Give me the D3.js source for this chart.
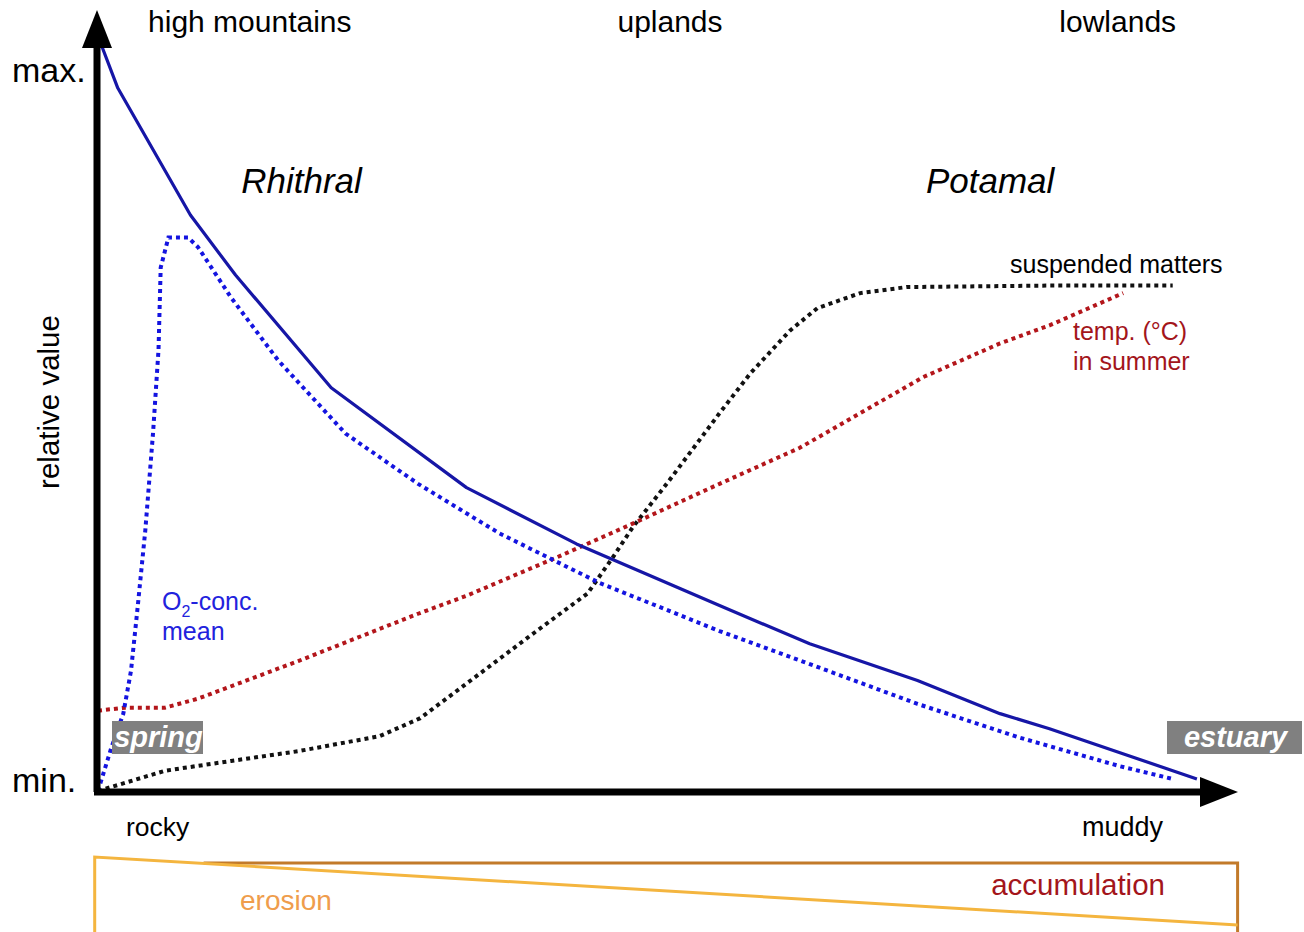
<!DOCTYPE html>
<html>
<head>
<meta charset="utf-8">
<script src="https://cdn.jsdelivr.net/npm/d3@7"></script>
<style>
  body { margin: 0; background: #fff; }
  svg { display: block; font-family: "Liberation Sans", Arial, sans-serif; }
</style>
</head>
<body>
<div id="chart"></div>
<script>
// zones along the river (x in % of river length)
const zoneNames = ["high mountains", "uplands", "lowlands"];
const zoneX = [13.8, 52, 92.7];
const regionNames = ["Rhithral", "Potamal"];
const regionX = [18.5, 81.1];

// relative values (0 = min, 100 = max)
const o2Max = [[0, 100.5], [1.8, 93.6], [8.4, 76.7], [12.5, 68.7], [21.2, 53.7], [33.5, 40.4],
  [43.5, 32.9], [56.5, 24.7], [64.7, 19.6], [74.5, 14.7], [82, 10.3], [86.5, 8.3], [99.9, 1.6]];
const o2Mean = [[0, 0], [1.2, 5.7], [2.3, 10.3], [3, 16], [3.6, 24.4], [4.3, 34.7], [5, 47.6],
  [5.5, 58.7], [5.7, 69.7], [6.4, 73.7], [8.2, 73.7], [9.1, 72.4], [12.1, 65.7], [16.4, 57.3],
  [22.5, 47.6], [29.1, 40.9], [36.5, 34.3], [45.6, 27.7], [56.5, 21.3], [64.7, 16.9],
  [74.5, 11.6], [83.8, 7.1], [92.9, 3.3], [97.7, 1.6]];
const tempSummer = [[0, 10.7], [2.5, 11.1], [6.1, 11.1], [9.1, 12.3], [18.2, 17.3], [29.1, 23.6],
  [33.5, 26], [41.7, 31.1], [48.6, 35.6], [56.5, 40.9], [63.8, 45.7], [75, 55.1], [82, 59.6],
  [86.5, 62], [93.2, 66.3]];
const suspended = [[0, 0], [6.1, 2.7], [12.1, 4], [18.2, 5.3], [25.6, 7.3], [29.3, 9.7],
  [33.5, 14.3], [39.5, 20.9], [44.5, 26.3], [46.8, 31.1], [48.6, 35.1], [51.7, 40.9],
  [56.5, 50.3], [59.3, 55.6], [62.9, 61.3], [65.4, 64.3], [69.3, 66.3], [73.5, 67.1],
  [86.5, 67.3], [97.7, 67.3]];

const svg = d3.select("#chart").append("svg")
  .attr("width", 1304)
  .attr("height", 932);

const x = d3.scaleLinear().domain([0, 100]).range([98, 1198]);
const y = d3.scaleLinear().domain([0, 100]).range([791, 40]);

const line = d3.line()
  .x(d => x(d[0]))
  .y(d => y(d[1]));

// bottom: erosion / accumulation
const bx0 = x(-0.3), bx1 = x(103.6);
svg.append("path")
  .attr("d", `M${x(9.6)},863 L${bx1},863 L${bx1},932`)
  .attr("fill", "none")
  .attr("stroke", "#c27a2a")
  .attr("stroke-width", 3);
svg.append("path")
  .attr("d", `M${bx0},932 L${bx0},857 L${bx1},925`)
  .attr("fill", "none")
  .attr("stroke", "#f4b53f")
  .attr("stroke-width", 3);
svg.append("text")
  .attr("x", 240).attr("y", 910)
  .style("font-size", "28px")
  .style("fill", "#ef9d4c")
  .text("erosion");
svg.append("text")
  .attr("x", 1165).attr("y", 895)
  .attr("text-anchor", "end")
  .style("font-size", "29.5px")
  .style("fill", "#a3151b")
  .text("accumulation");

// curves
svg.append("path").datum(suspended)
  .attr("fill", "none").attr("stroke", "#111")
  .attr("stroke-width", 4).attr("stroke-dasharray", "4 4")
  .attr("d", line);
svg.append("path").datum(tempSummer)
  .attr("fill", "none").attr("stroke", "#b3161b")
  .attr("stroke-width", 4).attr("stroke-dasharray", "4 4")
  .attr("d", line);
svg.append("path").datum(o2Mean)
  .attr("fill", "none").attr("stroke", "#1414e0")
  .attr("stroke-width", 4).attr("stroke-dasharray", "4 4")
  .attr("d", line);
svg.append("path").datum(o2Max)
  .attr("fill", "none").attr("stroke", "#1616a6")
  .attr("stroke-width", 3.2)
  .attr("stroke-linejoin", "round")
  .attr("d", line);

// axes with arrow heads
svg.append("line")
  .attr("x1", x(0) - 1).attr("y1", y(0) + 1)
  .attr("x2", x(0) - 1).attr("y2", 40)
  .attr("stroke", "#000").attr("stroke-width", 7);
svg.append("path")
  .attr("d", `M${x(0) - 16},48 L${x(0) - 1},10 L${x(0) + 14},48 Z`)
  .attr("fill", "#000");
svg.append("line")
  .attr("x1", x(0) - 4).attr("y1", y(0) + 1)
  .attr("x2", 1205).attr("y2", y(0) + 1)
  .attr("stroke", "#000").attr("stroke-width", 7);
svg.append("path")
  .attr("d", `M1200,${y(0) - 14} L1238,${y(0) + 1} L1200,${y(0) + 16} Z`)
  .attr("fill", "#000");

svg.append("text")
  .attr("x", 12).attr("y", y(96) + 12)
  .style("font-size", "34px")
  .text("max.");
svg.append("text")
  .attr("x", 12).attr("y", y(1.5) + 12)
  .style("font-size", "34px")
  .text("min.");
svg.append("text")
  .attr("transform", `translate(59,402) rotate(-90)`)
  .attr("text-anchor", "middle")
  .style("font-size", "29.5px")
  .text("relative value");

// zone labels
svg.selectAll("text.zone")
  .data(zoneNames)
  .enter().append("text")
  .attr("class", "zone")
  .attr("x", (d, i) => x(zoneX[i]))
  .attr("y", 32)
  .attr("text-anchor", "middle")
  .style("font-size", "30px")
  .text(d => d);

svg.selectAll("text.region")
  .data(regionNames)
  .enter().append("text")
  .attr("class", "region")
  .attr("x", (d, i) => x(regionX[i]))
  .attr("y", 193)
  .attr("text-anchor", "middle")
  .style("font-size", "35px")
  .style("font-style", "italic")
  .text(d => d);

// substrate labels
svg.append("text")
  .attr("x", 126).attr("y", 836)
  .style("font-size", "26.5px")
  .text("rocky");
svg.append("text")
  .attr("x", 1163).attr("y", 836)
  .attr("text-anchor", "end")
  .style("font-size", "27px")
  .text("muddy");

// curve labels
svg.append("text")
  .attr("x", 1010).attr("y", 273)
  .style("font-size", "25px")
  .text("suspended matters");
const tLab = svg.append("text")
  .attr("x", 1073).attr("y", 340)
  .style("font-size", "25px")
  .style("fill", "#a3151b");
tLab.append("tspan").text("temp. (°C)");
tLab.append("tspan").attr("x", 1073).attr("dy", 30).text("in summer");

const oLab = svg.append("text")
  .attr("x", 162).attr("y", 610)
  .style("font-size", "25px")
  .style("fill", "#2222dd");
oLab.append("tspan").text("O");
oLab.append("tspan").attr("dy", 7).style("font-size", "16px").text("2");
oLab.append("tspan").attr("dy", -7).text("-conc.");
oLab.append("tspan").attr("x", 162).attr("dy", 30).text("mean");

// spring / estuary boxes
const boxes = [
  { label: "spring", x0: 112, x1: 203 },
  { label: "estuary", x0: 1167, x1: 1302 }
];
svg.selectAll("rect.box")
  .data(boxes)
  .enter().append("rect")
  .attr("class", "box")
  .attr("x", d => d.x0).attr("y", 721)
  .attr("width", d => d.x1 - d.x0).attr("height", 33)
  .attr("fill", "#808080");
svg.selectAll("text.box")
  .data(boxes)
  .enter().append("text")
  .attr("class", "box")
  .attr("x", d => (d.x0 + d.x1) / 2 + 1)
  .attr("y", 747)
  .attr("text-anchor", "middle")
  .style("font-size", "29px")
  .style("font-weight", "bold")
  .style("font-style", "italic")
  .style("fill", "#fff")
  .text(d => d.label);
</script>
</body>
</html>
